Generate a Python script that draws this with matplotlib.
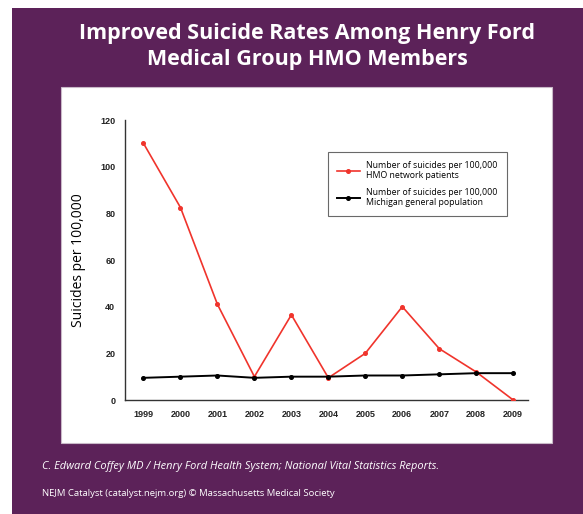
import numpy as np
import matplotlib
matplotlib.use("Agg")
import matplotlib.pyplot as plt
from matplotlib.patches import Rectangle

# data
years = [1999, 2000, 2001, 2002, 2003, 2004, 2005, 2006, 2007, 2008, 2009]
hmo_rate = [110, 82.5, 41, 10, 36.5, 9.5, 20, 40, 22, 12, 0]
michigan_rate = [9.5, 10, 10.5, 9.5, 10, 10, 10.5, 10.5, 11, 11.5, 11.5]
y_ticks = [0, 20, 40, 60, 80, 100, 120]

W, H = 583, 514
PURPLE = "#5c2259"

fig = plt.figure(figsize=(W / 100, H / 100), dpi=100)
fig.patch.set_facecolor("white")

def fx(px):
    return px / W

def fy(py):
    return 1 - py / H

# purple background and white panel
fig.patches.append(Rectangle((fx(12), 0), 1 - fx(12), fy(8), transform=fig.transFigure,
                             facecolor=PURPLE, edgecolor="none", zorder=0))
fig.patches.append(Rectangle((fx(61), fy(443)), fx(552 - 61), (443 - 87) / H,
                             transform=fig.transFigure, facecolor="white",
                             edgecolor="#c9b9c8", linewidth=0.8, zorder=1))

# title
fig.text(fx(307), fy(33), "Improved Suicide Rates Among Henry Ford", color="white",
         fontsize=15.5, fontweight="bold", family="Open Sans", ha="center", va="center")
fig.text(fx(307), fy(60), "Medical Group HMO Members", color="white",
         fontsize=15.5, fontweight="bold", family="Open Sans", ha="center", va="center")

# footer
fig.text(fx(42), fy(467), "C. Edward Coffey MD / Henry Ford Health System; National Vital Statistics Reports.",
         color="white", fontsize=7.9, style="italic", family="Open Sans", ha="left", va="center")
fig.text(fx(42), fy(493), "NEJM Catalyst (catalyst.nejm.org) \u00a9 Massachusetts Medical Society",
         color="white", fontsize=6.8, family="Open Sans", ha="left", va="center")

# chart
ax = fig.add_axes([fx(125), fy(400), fx(528 - 125), (400 - 120) / H], zorder=2)
ax.set_facecolor("none")
ax.plot(years, hmo_rate, color="#f0342c", linewidth=1.2, marker="o", markersize=2.6,
        label="Number of suicides per 100,000\nHMO network patients", zorder=3)
ax.plot(years, michigan_rate, color="black", linewidth=1.4, marker="o", markersize=2.6,
        label="Number of suicides per 100,000\nMichigan general population", zorder=3)

ax.set_xlim(1998.5, 2009.4)
ax.set_ylim(0, 120)
ax.set_xticks(years)
ax.set_xticklabels([str(y) for y in years])
ax.set_yticks(y_ticks)
ax.tick_params(length=0, labelsize=6.5, pad=7, colors="#222222")
for lab in ax.get_xticklabels() + ax.get_yticklabels():
    lab.set_fontweight("bold")
    lab.set_family("Liberation Sans")
ax.spines["top"].set_visible(False)
ax.spines["right"].set_visible(False)
ax.spines["left"].set_color("#333333")
ax.spines["bottom"].set_color("#333333")
ax.spines["left"].set_linewidth(1.0)
ax.spines["bottom"].set_linewidth(1.0)
ax.set_ylabel("Suicides per 100,000", fontsize=10, family="Open Sans", labelpad=10)

leg = ax.legend(loc="upper left", bbox_to_anchor=((328 - 125) / (528 - 125), 1 - (152 - 120) / 280),
                prop={"family": "Open Sans", "size": 6.3}, frameon=True, fancybox=False,
                edgecolor="#444444", borderpad=1.0, labelspacing=0.9, handlelength=2.6,
                borderaxespad=0)
leg.get_frame().set_linewidth(0.8)

fig.savefig("out.png", dpi=100, facecolor=fig.get_facecolor())
